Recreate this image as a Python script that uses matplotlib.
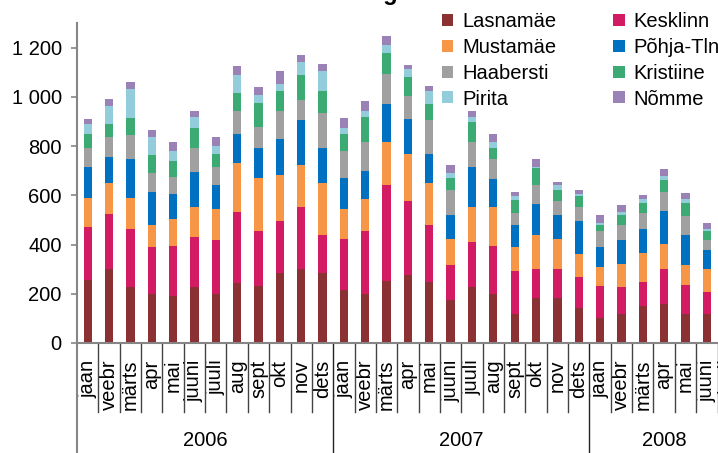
import matplotlib
matplotlib.use('Agg')
import matplotlib.pyplot as plt
import numpy as np
from matplotlib.patches import Patch
from matplotlib.transforms import blended_transform_factory

plt.rcParams['font.family'] = ['Liberation Sans', 'DejaVu Sans']

# ---------------- data ----------------
months = ["jaan", "veebr", "märts", "apr", "mai", "juuni", "juuli", "aug", "sept", "okt", "nov", "dets"]
month_labels = months + months + months[:7]
years = ["2006", "2007", "2008"]

lasnamae = [257, 302, 226, 200, 192, 226, 200, 245, 233, 286, 302, 286,
            217, 200, 253, 278, 249, 176, 229, 200, 119, 184, 184, 144,
            103, 119, 152, 160, 119, 119]
kesklinn = [216, 224, 239, 188, 204, 206, 220, 289, 224, 211, 252, 154,
            207, 253, 387, 297, 232, 142, 183, 196, 175, 118, 118, 126,
            130, 110, 97, 142, 118, 90]
mustamae = [118, 122, 126, 93, 109, 122, 126, 199, 215, 187, 171, 208,
            122, 134, 178, 191, 167, 106, 142, 158, 94, 138, 122, 93,
            77, 93, 118, 102, 81, 93]
pohja = [126, 109, 158, 134, 102, 142, 94, 118, 122, 143, 179, 146,
         126, 113, 151, 142, 118, 98, 163, 114, 93, 126, 98, 134,
         78, 98, 98, 134, 122, 77]
haabersti = [77, 78, 94, 77, 69, 98, 77, 93, 85, 117, 85, 142,
             106, 118, 122, 97, 138, 101, 101, 81, 49, 74, 53, 57,
             65, 61, 65, 77, 74, 41]
kristiine = [57, 53, 73, 70, 65, 81, 49, 70, 98, 78, 98, 86,
             73, 102, 89, 74, 65, 49, 78, 45, 49, 69, 48, 45,
             28, 41, 40, 49, 56, 33]
pirita = [37, 73, 114, 73, 37, 45, 36, 73, 32, 32, 53, 81,
          24, 24, 29, 36, 53, 20, 24, 24, 20, 8, 17, 8,
          8, 12, 17, 16, 17, 12]
nomme = [20, 32, 32, 32, 40, 24, 33, 40, 33, 49, 32, 32,
         41, 41, 40, 16, 24, 33, 24, 33, 16, 32, 16, 16,
         33, 28, 16, 25, 24, 24]

yticks = [0, 200, 400, 600, 800, 1000, 1200]
ytick_labels = ["0", "200", "400", "600", "800", "1 000", "1 200"]

series = [
    ("Lasnamäe", lasnamae, "#8B3033"),
    ("Kesklinn", kesklinn, "#D21B63"),
    ("Mustamäe", mustamae, "#F79646"),
    ("Põhja-Tln", pohja, "#0070C0"),
    ("Haabersti", haabersti, "#A0A0A0"),
    ("Kristiine", kristiine, "#3BAA73"),
    ("Pirita", pirita, "#93CDDC"),
    ("Nõmme", nomme, "#9B82B6"),
]

FS = 14.5

# ---------------- figure ----------------
W, H = 718, 453
fig = plt.figure(figsize=(W / 100, H / 100), dpi=100)
slot = 21.35
ax = fig.add_axes([77 / W, 110 / H, 31 * slot / W, 320 / H])

x = np.arange(len(lasnamae))
bottom = np.zeros(len(x))
handles = {}
for name, vals, col in series:
    v = np.array(vals, dtype=float)
    ax.bar(x, v, 0.39, bottom=bottom, color=col, linewidth=0)
    bottom += v
    handles[name] = Patch(facecolor=col, edgecolor='none')

ax.set_xlim(-0.5, 30.5)
ax.set_ylim(0, 1300)

for s in ("top", "right"):
    ax.spines[s].set_visible(False)
for s in ("left", "bottom"):
    ax.spines[s].set_color("#868686")
    ax.spines[s].set_linewidth(1.5)

ax.set_yticks(yticks)
ax.set_yticklabels(ytick_labels, fontsize=FS)
ax.tick_params(axis='y', direction='out', length=4, width=1.2, color='#868686', pad=7)

ax.set_xticks(range(len(month_labels)))
ax.set_xticklabels(month_labels, rotation=90, fontsize=FS)
ax.tick_params(axis='x', length=0, pad=12)

trans = blended_transform_factory(ax.transData, ax.transAxes)
short = -69 / 320
long_ = -112 / 320
for b in np.arange(0.5, 31.0, 1.0):
    if b in (11.5, 23.5):
        ax.plot([b, b], [0, long_], transform=trans, color='#222222', lw=1, clip_on=False)
    else:
        ax.plot([b, b], [0, short], transform=trans, color='#444444', lw=1, clip_on=False)
ax.plot([-0.5, -0.5], [0, long_], transform=trans, color='#868686', lw=1.5, clip_on=False)

year_centers = [5.5, 17.5, 27.0]
for yc, yl in zip(year_centers, years):
    ax.text(yc, -97 / 320, yl, transform=trans, ha='center', va='center', fontsize=FS)

order = ["Lasnamäe", "Mustamäe", "Haabersti", "Pirita", "Kesklinn", "Põhja-Tln", "Kristiine", "Nõmme"]
fig.legend([handles[n] for n in order], order, ncol=2, loc='upper left',
           bbox_to_anchor=(442 / W, 1 - 12.0 / H), frameon=False, fontsize=FS,
           handlelength=0.55, handleheight=0.55, handletextpad=0.45,
           labelspacing=0.34, columnspacing=2.84, borderpad=0, borderaxespad=0)

fig.text(322 / W, 1.0, "Tehingute arv linnaositi", fontsize=17, fontweight='bold',
         ha='left', va='baseline')

fig.savefig("out.png", dpi=100)
